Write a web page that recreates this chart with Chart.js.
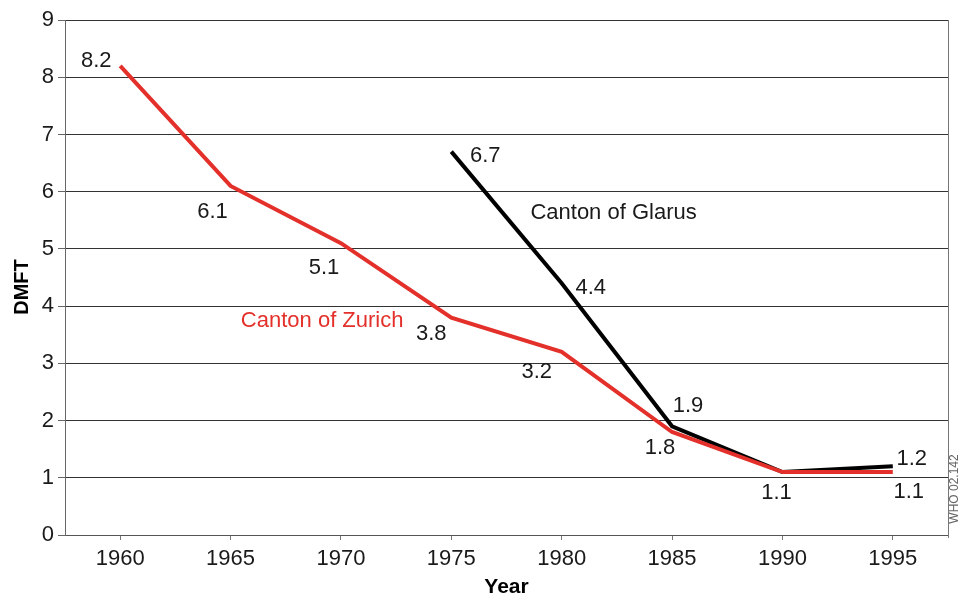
<!DOCTYPE html>
<html lang="en">
<head>
    <meta charset="UTF-8">
    <title>DMFT Zurich and Glarus</title>
    <script src="https://cdn.jsdelivr.net/npm/chart.js"></script>
    <style>
        html, body { margin: 0; padding: 0; background: #fff; }
        #wrap { width: 960px; height: 597px; position: relative; }
    </style>
</head>
<body>
    <div id="wrap"><canvas id="dmftChart" width="960" height="597"></canvas></div>

    <script>
        // data
        const years = ['1960', '1965', '1970', '1975', '1980', '1985', '1990', '1995'];
        const zurich = [8.2, 6.1, 5.1, 3.8, 3.2, 1.8, 1.1, 1.1];
        const glarus = [null, null, null, 6.7, 4.4, 1.9, 1.1, 1.2];
        const yTicks = [0, 1, 2, 3, 4, 5, 6, 7, 8, 9];

        // where each value label sits relative to its point (px)
        const zurichLabelOffsets = [[-24, -5], [-18, 26], [-17, 25], [-20, 16], [-25, 20], [-12, 16], [-6, 21], [16, 20]];
        const glarusLabelOffsets = [null, null, null, [34, 4], [29, 5], [16, -20], [0, 0], [19, -7]];

        const FONT = '"Liberation Sans", Arial, Helvetica, sans-serif';
        const RED = '#e4302a';

        const labelsPlugin = {
            id: 'valueLabels',
            afterDatasetsDraw(chart) {
                const ctx = chart.ctx;
                const { x, y } = chart.scales;
                ctx.save();
                ctx.font = '22px ' + FONT;
                ctx.fillStyle = '#1a1a1a';
                ctx.textAlign = 'center';
                ctx.textBaseline = 'middle';
                const sets = [[0, zurich, zurichLabelOffsets], [1, glarus, glarusLabelOffsets]];
                sets.forEach(([di, vals, offs]) => {
                    const meta = chart.getDatasetMeta(di);
                    vals.forEach((v, i) => {
                        if (v === null) return;
                        if (di === 1 && i === 6) return; // 1990 value shared with Zurich, labelled once
                        const p = meta.data[i];
                        ctx.fillText(v.toFixed(1), p.x + offs[i][0], p.y + offs[i][1]);
                    });
                });

                // series names
                ctx.fillStyle = RED;
                ctx.fillText('Canton of Zurich', x.getPixelForValue(1.83), y.getPixelForValue(3.74));
                ctx.fillStyle = '#1a1a1a';
                ctx.fillText('Canton of Glarus', x.getPixelForValue(4.47), y.getPixelForValue(5.63));

                // y axis title, sits a little below the axis middle in the original
                ctx.save();
                ctx.translate(22, 287);
                ctx.rotate(-Math.PI / 2);
                ctx.font = 'bold 20px ' + FONT;
                ctx.fillStyle = '#000';
                ctx.fillText('DMFT', 0, 0);
                ctx.restore();

                // right border of plot
                const a = chart.chartArea;
                ctx.strokeStyle = '#777';
                ctx.lineWidth = 1;
                ctx.beginPath();
                ctx.moveTo(a.right + 0.5, a.top);
                ctx.lineTo(a.right + 0.5, a.bottom + 3);
                ctx.stroke();

                // small reference code on the right edge
                ctx.save();
                ctx.translate(955, 489);
                ctx.rotate(-Math.PI / 2);
                ctx.font = '12px ' + FONT;
                ctx.fillStyle = '#666';
                ctx.fillText('WHO 02.142', 0, 0);
                ctx.restore();
                ctx.restore();
            }
        };

        new Chart(document.getElementById('dmftChart'), {
            type: 'line',
            data: {
                labels: years,
                datasets: [{
                    label: 'Canton of Zurich',
                    data: zurich,
                    borderColor: RED,
                    borderWidth: 4,
                    pointRadius: 0,
                    tension: 0
                }, {
                    label: 'Canton of Glarus',
                    data: glarus,
                    borderColor: '#000',
                    borderWidth: 4,
                    pointRadius: 0,
                    tension: 0
                }]
            },
            options: {
                responsive: false,
                animation: false,
                layout: { padding: { top: 20, right: 12, left: 0, bottom: 0 } },
                plugins: { legend: { display: false }, tooltip: { enabled: false } },
                scales: {
                    x: {
                        offset: true,
                        grid: { display: true, drawOnChartArea: false, offset: false, tickLength: 5, color: '#777' },
                        border: { color: '#555', width: 1 },
                        ticks: { font: { family: FONT, size: 22 }, color: '#1a1a1a', padding: 6, maxRotation: 0 },
                        title: { display: true, text: 'Year', font: { family: FONT, size: 21, weight: 'bold', lineHeight: 1 }, color: '#000', padding: { top: 0, bottom: -1 } },
                        afterFit(s) { s.height = 62; }
                    },
                    y: {
                        min: 0,
                        max: 9,
                        afterBuildTicks(s) { s.ticks = yTicks.map(v => ({ value: v })); },
                        grid: { color: '#333', lineWidth: 1, tickLength: 7, tickColor: '#666' },
                        border: { color: '#666', width: 1 },
                        ticks: { font: { family: FONT, size: 22 }, color: '#1a1a1a', padding: 4 },
                        title: { display: false },
                        afterFit(s) { s.width = 65; }
                    }
                }
            },
            plugins: [labelsPlugin]
        });
    </script>
</body>
</html>
